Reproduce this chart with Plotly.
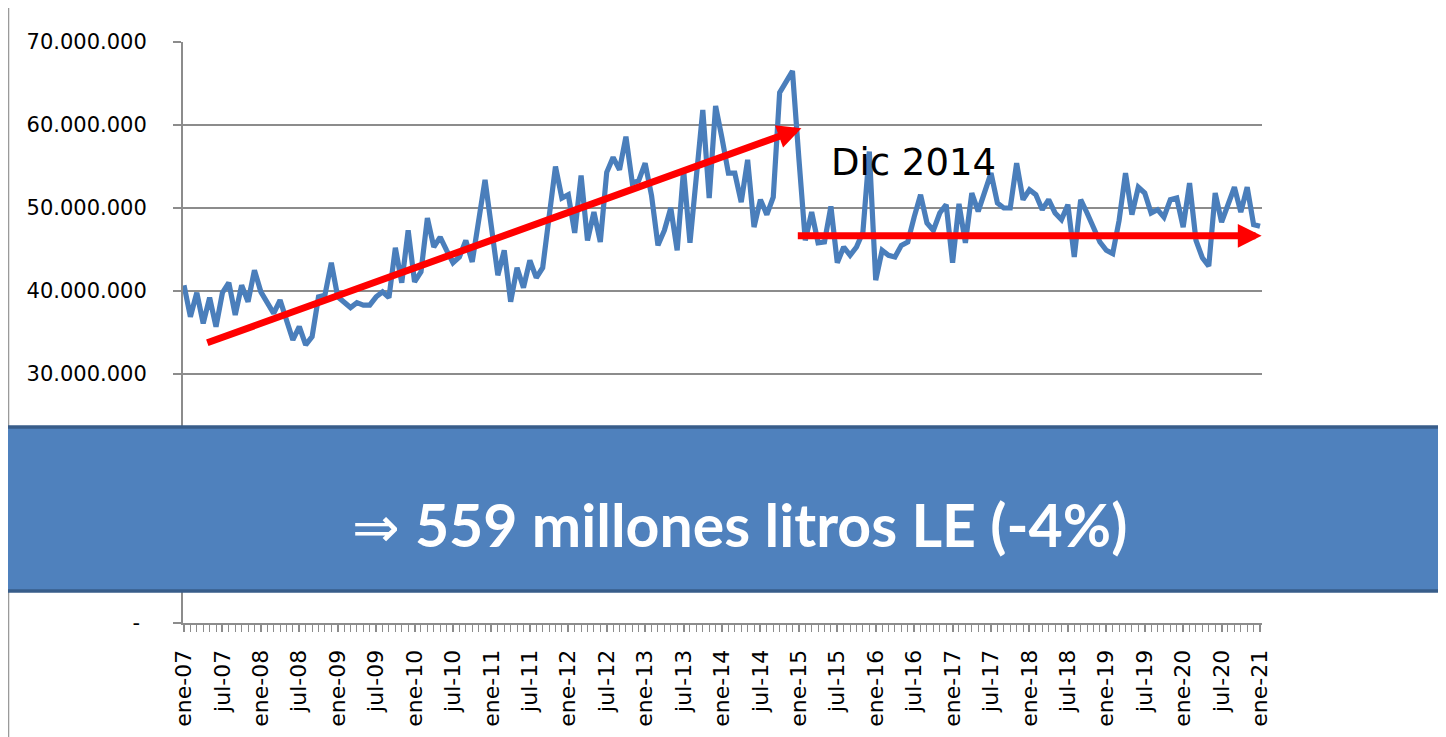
import plotly.graph_objects as go

# ---------------- data (millions of litres, monthly ene-07 .. ene-21) ----------------
values_m = [
    40.7, 36.9, 39.8, 36.1, 39.2, 35.7, 39.8, 41.0, 37.1, 40.7, 38.7, 42.5,   # 2007
    39.9, 38.5, 37.3, 38.9, 36.5, 34.1, 35.7, 33.5, 34.5, 39.3, 39.5, 43.4,   # 2008
    39.3, 38.7, 38.0, 38.6, 38.3, 38.3, 39.3, 39.9, 39.2, 45.2, 41.0, 47.3,   # 2009
    41.1, 42.3, 48.8, 45.3, 46.5, 44.9, 43.4, 44.1, 46.1, 43.5, 48.0, 53.4,   # 2010
    47.7, 41.9, 44.9, 38.7, 42.8, 40.4, 43.7, 41.6, 42.8, 49.0, 55.0, 51.2,   # 2011
    51.6, 47.0, 53.9, 46.1, 49.5, 45.9, 54.3, 56.1, 54.6, 58.6, 53.0, 53.3,   # 2012
    55.4, 51.5, 45.5, 47.3, 50.0, 44.9, 54.6, 45.8, 54.0, 61.8, 51.2, 62.3,   # 2013
    58.4, 54.2, 54.2, 50.7, 55.8, 47.7, 51.0, 49.2, 51.3, 63.9, 65.2, 66.5,   # 2014
    56.0, 46.1, 49.5, 45.8, 45.9, 50.2, 43.4, 45.3, 44.3, 45.3, 47.1, 56.8,   # 2015
    41.3, 44.9, 44.3, 44.1, 45.5, 45.9, 48.9, 51.6, 48.2, 47.3, 49.4, 50.4,   # 2016
    43.4, 50.5, 45.8, 51.8, 49.6, 51.8, 54.2, 50.6, 50.0, 50.0, 55.4, 51.0,   # 2017
    52.2, 51.6, 49.8, 51.0, 49.4, 48.6, 50.4, 44.1, 51.0, 49.4, 47.6, 45.9,   # 2018
    44.9, 44.5, 48.5, 54.2, 49.2, 52.5, 51.8, 49.4, 49.8, 48.9, 51.0, 51.2,   # 2019
    47.7, 53.0, 46.1, 44.0, 43.0, 51.8, 48.3, 50.4, 52.5, 49.5, 52.5, 48.0,   # 2020
    47.8,                                                                     # ene-21
]
values = [v * 1_000_000 for v in values_m]
month_index = list(range(len(values)))

tick_months = list(range(0, len(values), 6))
tick_labels = [("ene-" if m % 12 == 0 else "jul-") + f"{7 + m // 12:02d}" for m in tick_months]

y_tickvals = [0, 10_000_000, 20_000_000, 30_000_000, 40_000_000, 50_000_000, 60_000_000, 70_000_000]
y_ticktext = ["-\u00a0", "10.000.000", "20.000.000", "30.000.000", "40.000.000",
              "50.000.000", "60.000.000", "70.000.000"]

# trend arrows: (month index, value) tail -> head
trend_up_tail = (3.4, 33_700_000)
trend_up_head = (96.4, 59_600_000)
trend_flat_tail = (95.6, 46_650_000)
trend_flat_head = (168.25, 46_650_000)

label_break = "Dic 2014"
label_box_arrow = "⇒"
label_box_text = "559 millones litros LE (-4%)"

# ---------------- figure ----------------
# the page body adds an 8 px margin; margins are reduced by 8 px to compensate
GRID = "#8c8c8c"
fig = go.Figure()
fig.add_trace(go.Scatter(
    x=month_index, y=values, mode="lines",
    line=dict(color="#4a7ebb", width=5.2),
    hoverinfo="skip", showlegend=False,
))

fig.update_layout(
    width=1446, height=737,
    margin=dict(l=175, r=192, t=34, b=122, pad=0),
    paper_bgcolor="white", plot_bgcolor="white",
    font=dict(family="DejaVu Sans", color="black"),
    showlegend=False,
)

fig.update_xaxes(
    range=[-0.156, 168.31],
    tickmode="array", tickvals=tick_months, ticktext=tick_labels,
    tickangle=-90, tickfont=dict(size=22, family="DejaVu Sans"),
    ticks="outside", ticklen=7, tickcolor=GRID, tickwidth=1.5,
    ticklabelstandoff=9,
    showline=True, linecolor=GRID, linewidth=2,
    showgrid=False, zeroline=False,
    minor=dict(tickmode="linear", tick0=0, dtick=1, ticks="outside",
               ticklen=7, tickcolor=GRID, tickwidth=1.2, showgrid=False),
)
fig.update_yaxes(
    range=[0, 70_000_000],
    tickmode="array", tickvals=y_tickvals, ticktext=y_ticktext,
    tickfont=dict(size=21, family="DejaVu Sans"),
    ticks="outside", ticklen=8, tickcolor=GRID, tickwidth=1.5,
    ticklabelstandoff=22,
    showline=True, linecolor=GRID, linewidth=2,
    showgrid=True, gridcolor=GRID, gridwidth=1.5,
    zeroline=False,
)

# red trend arrows
for (tx, ty), (hx, hy) in [(trend_up_tail, trend_up_head), (trend_flat_tail, trend_flat_head)]:
    fig.add_annotation(
        x=hx, y=hy, ax=tx, ay=ty, xref="x", yref="y", axref="x", ayref="y",
        text="", showarrow=True, arrowhead=2, arrowsize=0.68, arrowwidth=7,
        arrowcolor="#ff0000",
    )

fig.add_annotation(
    x=113.9, y=55_500_000, xref="x", yref="y", text=label_break, showarrow=False,
    font=dict(size=37, family="DejaVu Sans", color="black"),
    xanchor="center", yanchor="middle",
)

# outer chart border (left edge) and blue banner
fig.add_shape(type="line", xref="paper", yref="paper",
              x0=-0.1617, x1=-0.1617, y0=-0.2, y1=1.08,
              line=dict(color="#9a9a9a", width=1.5), layer="above")
fig.add_shape(type="rect", xref="paper", yref="paper",
              x0=-0.1659, x1=1.176, y0=0.0551, y1=0.3373,
              fillcolor="#4f81bd", line=dict(color="#385d8a", width=3.5), layer="above")
fig.add_annotation(
    x=0.516, y=0.1687, xref="paper", yref="paper",
    text=(f'<span style="font-family:DejaVu Sans;font-size:57px">{label_box_arrow}</span>'
          f'\u00a0<b>{label_box_text}</b>'),
    showarrow=False,
    font=dict(size=59, family="Lato", color="white"),
    xanchor="center", yanchor="middle",
)

fig.write_html("out.html")
